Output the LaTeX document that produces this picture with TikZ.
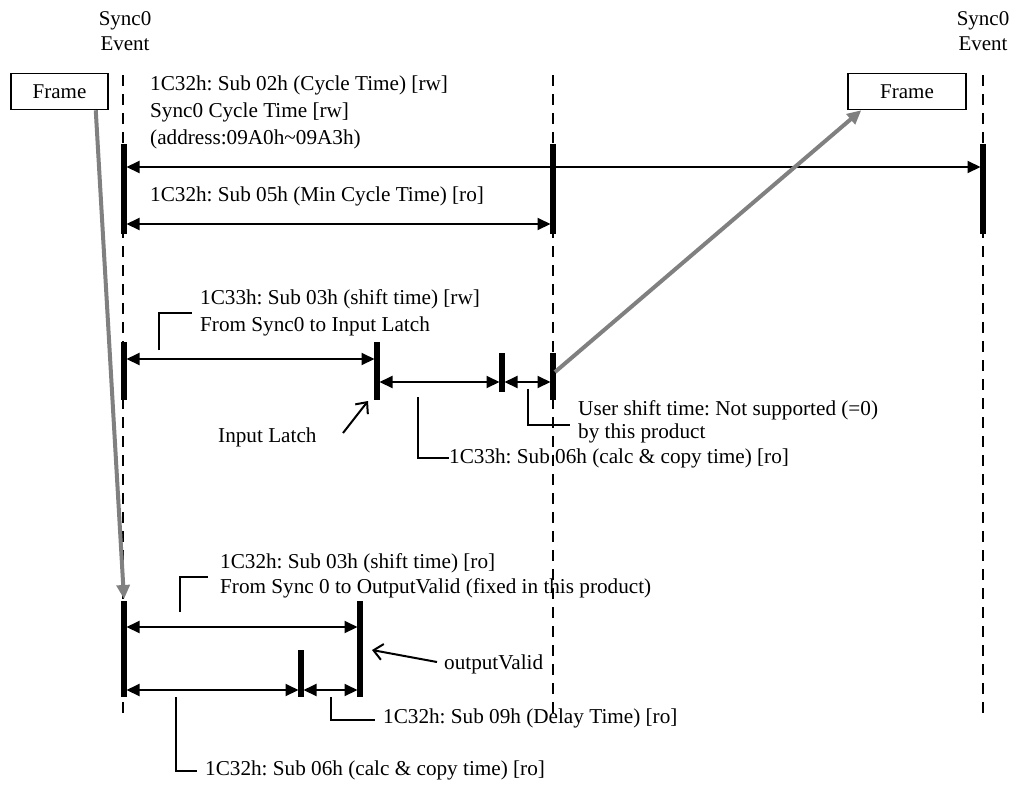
\documentclass[tikz,border=0pt]{standalone}
\usepackage{fontspec}
\setmainfont{Liberation Serif}
\usetikzlibrary{arrows.meta}
\begin{document}
\frenchspacing
\begin{tikzpicture}[x=1pt,y=-1pt,
  lbl/.style={anchor=west,inner sep=0pt,font=\fontsize{21.2}{27}\selectfont},
  ctr/.style={align=center,inner sep=0pt,font=\fontsize{21}{25}\selectfont},
  dashline/.style={line width=2.6pt,dash pattern=on 11pt off 8pt},
  bar/.style={line width=5.5pt},
  dim/.style={line width=2pt,{Triangle[length=13pt,width=12pt]}-{Triangle[length=13pt,width=12pt]}},
  lead/.style={line width=1.5pt},
  ptr/.style={line width=2pt,-{Straight Barb[length=9pt,width=16pt,line width=2pt]}},
  grayarr/.style={line width=4pt,draw={rgb,255:red,128;green,128;blue,128},-{Triangle[length=14pt,width=13pt]}},
  framebox/.style={draw,line width=1.5pt,minimum width=97pt,minimum height=36pt,inner sep=0pt,font=\fontsize{21}{24}\selectfont}]
\useasboundingbox (0,0) rectangle (1009,785);

% event labels
\node[ctr] (ev1) at (125,31) {Sync0\\Event};
\node[ctr] (ev2) at (983,31) {Sync0\\Event};

% dashed timelines
\coordinate (dl1t) at (123,75); \coordinate (dl1b) at (123,717);
\coordinate (dl2t) at (553,75); \coordinate (dl2b) at (553,717);
\coordinate (dl3t) at (983,75); \coordinate (dl3b) at (983,717);
\draw[dashline] (dl1t) -- (dl1b);
\draw[dashline] (dl2t) -- (dl2b);
\draw[dashline] (dl3t) -- (dl3b);

% frames
\node[framebox] (fr1) at (59.5,91.5) {Frame};
\node[framebox,minimum width=118pt] (fr2) at (907,91.5) {Frame};

% top bars
\coordinate (b1t) at (124,144); \coordinate (b1b) at (124,234);
\coordinate (b2t) at (553,144); \coordinate (b2b) at (553,234);
\coordinate (b3t) at (983,144); \coordinate (b3b) at (983,234);
\draw[bar] (b1t) -- (b1b);
\draw[bar] (b2t) -- (b2b);
\draw[bar] (b3t) -- (b3b);
\coordinate (a1l) at (126.5,167); \coordinate (a1r) at (980.5,167);
\coordinate (a2l) at (126.5,224); \coordinate (a2r) at (550.5,224);
\draw[dim] (a1l) -- (a1r);
\draw[dim] (a2l) -- (a2r);
\node[lbl] (t1) at (150,85) {1C32h: Sub 02h (Cycle Time) [rw]};
\node[lbl] (t2) at (150,112) {Sync0 Cycle Time [rw]};
\node[lbl] (t3) at (150,139) {(address:09A0h\textasciitilde 09A3h)};
\node[lbl] (t4) at (150,196) {1C32h: Sub 05h (Min Cycle Time) [ro]};

% middle section bars
\coordinate (m1t) at (124,342); \coordinate (m1b) at (124,400);
\coordinate (m2t) at (377,342); \coordinate (m2b) at (377,400);
\coordinate (m3t) at (502,353); \coordinate (m3b) at (502,392);
\coordinate (m4t) at (553,353); \coordinate (m4b) at (553,400);
\draw[bar] (m1t) -- (m1b);
\draw[bar] (m2t) -- (m2b);
\draw[bar] (m3t) -- (m3b);
\draw[bar] (m4t) -- (m4b);
\coordinate (ma1l) at (126.5,359); \coordinate (ma1r) at (374.5,359);
\coordinate (ma2l) at (379.5,382); \coordinate (ma2r) at (499.5,382);
\coordinate (ma3l) at (504.5,382); \coordinate (ma3r) at (550.5,382);
\draw[dim] (ma1l) -- (ma1r);
\draw[dim] (ma2l) -- (ma2r);
\draw[dim] (ma3l) -- (ma3r);

\node[lbl] (t5) at (200,299) {1C33h: Sub 03h (shift time) [rw]};
\node[lbl] (t6) at (200,326) {From Sync0 to Input Latch};
\coordinate (l1a) at (159,350); \coordinate (l1b) at (159,313); \coordinate (l1c) at (192,313);
\draw[lead] (l1a) -- (l1b) -- (l1c);

\node[lbl] (t7) at (218,437) {Input Latch};
\coordinate (il1) at (343,433); \coordinate (il2) at (368,401);
\draw[ptr] (il1) -- (il2);

\node[lbl] (t8) at (449,458) {1C33h: Sub 06h (calc \& copy time) [ro]};
\coordinate (l2a) at (418,397); \coordinate (l2b) at (418,458);
\draw[lead] (l2a) -- (l2b) -- (t8.west);

\node[lbl] (t9) at (578,410) {User shift time: Not supported (=0)};
\node[lbl] (t10) at (578,433) {by this product};
\coordinate (l3a) at (528,389); \coordinate (l3b) at (528,425); \coordinate (l3c) at (570,425);
\draw[lead] (l3a) -- (l3b) -- (l3c);

% bottom section bars
\coordinate (o1t) at (124,601); \coordinate (o1b) at (124,697);
\coordinate (o2t) at (360,601); \coordinate (o2b) at (360,697);
\coordinate (o3t) at (301,650); \coordinate (o3b) at (301,697);
\draw[bar] (o1t) -- (o1b);
\draw[bar] (o2t) -- (o2b);
\draw[bar] (o3t) -- (o3b);
\coordinate (oa1l) at (126.5,627); \coordinate (oa1r) at (357.5,627);
\coordinate (oa2l) at (126.5,690); \coordinate (oa2r) at (298.5,690);
\coordinate (oa3l) at (303.5,690); \coordinate (oa3r) at (357.5,690);
\draw[dim] (oa1l) -- (oa1r);
\draw[dim] (oa2l) -- (oa2r);
\draw[dim] (oa3l) -- (oa3r);

\node[lbl] (t11) at (220,563) {1C32h: Sub 03h (shift time) [ro]};
\node[lbl] (t12) at (220,588) {From Sync 0 to OutputValid (fixed in this product)};
\coordinate (l4a) at (180,612); \coordinate (l4b) at (180,577); \coordinate (l4c) at (208,577);
\draw[lead] (l4a) -- (l4b) -- (l4c);

\node[lbl] (t13) at (444,664) {outputValid};
\coordinate (ov1) at (437,662); \coordinate (ov2) at (372,650);
\draw[ptr] (ov1) -- (ov2);

\node[lbl] (t14) at (383,718) {1C32h: Sub 09h (Delay Time) [ro]};
\coordinate (l5a) at (331,697); \coordinate (l5b) at (331,720); \coordinate (l5c) at (375,720);
\draw[lead] (l5a) -- (l5b) -- (l5c);

\node[lbl] (t15) at (205,770) {1C32h: Sub 06h (calc \& copy time) [ro]};
\coordinate (l6a) at (176,697); \coordinate (l6b) at (176,771); \coordinate (l6c) at (197,771);
\draw[lead] (l6a) -- (l6b) -- (l6c);

% gray frame arrows
\coordinate (g1e) at (124,599);
\draw[grayarr] (fr1.south east) ++(-13,0) coordinate (g1s) -- (g1e);
\coordinate (g2s) at (555,372);
\draw[grayarr] (g2s) -- ([xshift=14pt]fr2.south west);
\end{tikzpicture}
\end{document}
